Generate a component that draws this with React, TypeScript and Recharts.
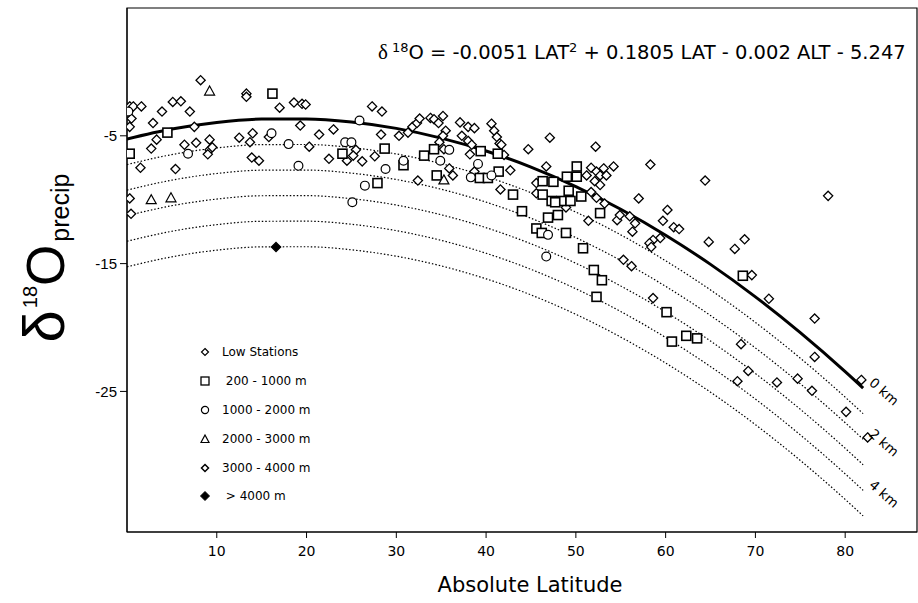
import React from 'react';
import {
  ComposedChart,
  Line,
  Scatter,
  XAxis,
  YAxis,
  ReferenceArea,
  ReferenceDot,
  Legend,
} from 'recharts';

// latitudes where the fitted curves are sampled
const latitudes = [0, 5, 10, 15, 20, 25, 30, 35, 40, 45, 50, 55, 60, 65, 70, 75, 80, 82];

// fitted d18O at altitudes 0..5 km
const curve0km = [-5.25, -4.47, -3.95, -3.69, -3.68, -3.92, -4.42, -5.18, -6.19, -7.45, -8.97, -10.75, -12.78, -15.06, -17.6, -20.4, -23.45, -24.74];
const curve1km = [-7.25, -6.47, -5.95, -5.69, -5.68, -5.92, -6.42, -7.18, -8.19, -9.45, -10.97, -12.75, -14.78, -17.06, -19.6, -22.4, -25.45, -26.74];
const curve2km = [-9.25, -8.47, -7.95, -7.69, -7.68, -7.92, -8.42, -9.18, -10.19, -11.45, -12.97, -14.75, -16.78, -19.06, -21.6, -24.4, -27.45, -28.74];
const curve3km = [-11.25, -10.47, -9.95, -9.69, -9.68, -9.92, -10.42, -11.18, -12.19, -13.45, -14.97, -16.75, -18.78, -21.06, -23.6, -26.4, -29.45, -30.74];
const curve4km = [-13.25, -12.47, -11.95, -11.69, -11.68, -11.92, -12.42, -13.18, -14.19, -15.45, -16.97, -18.75, -20.78, -23.06, -25.6, -28.4, -31.45, -32.74];
const curve5km = [-15.25, -14.47, -13.95, -13.69, -13.68, -13.92, -14.42, -15.18, -16.19, -17.45, -18.97, -20.75, -22.78, -25.06, -27.6, -30.4, -33.45, -34.74];

// stations: [absolute latitude, d18O]
const lowStations = [
  [8.2, -0.65], [13.3, -1.7], [13.3, -1.95], [0.3, -2.7], [0.7, -2.7], [1.6, -2.7], [0.5, -3.65], [0.3, -4.3],
  [3.9, -3.1], [5.1, -2.35], [6.0, -2.3], [7.0, -3.1], [2.9, -4.0], [7.5, -4.3], [17.0, -2.8], [18.6, -2.4],
  [19.5, -2.5], [19.9, -2.55], [19.3, -4.2], [21.4, -4.9], [3.3, -5.3], [2.7, -6.0], [6.4, -5.7], [7.7, -5.55],
  [9.2, -5.3], [9.2, -6.1], [9.5, -5.9], [9.0, -6.45], [12.5, -5.15], [13.7, -5.5], [14.0, -4.8], [15.8, -5.1],
  [20.3, -5.85], [13.9, -6.7], [14.7, -6.95], [1.5, -7.5], [5.4, -7.6],
  [27.3, -2.7], [28.4, -3.1], [23.0, -4.5], [28.3, -4.9], [30.3, -5.0], [31.3, -4.75], [31.8, -4.3], [32.3, -4.0],
  [32.6, -3.65], [33.8, -3.6], [34.2, -3.7], [34.7, -4.0], [35.2, -3.45], [35.5, -4.6], [35.2, -5.0], [37.1, -3.95],
  [38.0, -4.3], [38.7, -4.4], [37.3, -5.0], [38.0, -5.4], [38.4, -5.7], [40.6, -4.05], [40.9, -4.6], [41.2, -5.1],
  [25.5, -6.1], [25.2, -6.55], [24.5, -6.95], [22.5, -6.8], [26.2, -7.0], [27.6, -6.6], [32.4, -8.5], [34.8, -5.5],
  [35.3, -6.05], [35.9, -7.55], [36.3, -8.1], [38.2, -6.45], [38.7, -7.8], [41.6, -9.2], [41.5, -5.6],
  [41.7, -5.7], [47.1, -5.15], [44.7, -6.05], [52.2, -5.85], [42.0, -6.5], [46.7, -7.4], [42.7, -7.7], [51.7, -7.5],
  [52.3, -7.8], [53.1, -7.55], [54.2, -7.4], [52.7, -8.1], [53.4, -8.1], [52.1, -8.55], [52.7, -8.85], [51.2, -8.1],
  [51.7, -9.4], [52.3, -9.85], [53.2, -10.3], [51.4, -11.65], [54.6, -11.6], [54.9, -11.2], [56.0, -11.3],
  [56.6, -11.85], [56.3, -12.5], [57.0, -9.9], [55.3, -14.7], [45.6, -8.7], [45.6, -9.5], [48.9, -10.6],
  [58.3, -7.25], [64.4, -8.5], [60.2, -10.8], [59.7, -11.65], [60.9, -12.15], [61.5, -12.3], [59.4, -13.0],
  [58.6, -13.15], [58.2, -13.4], [58.4, -13.7], [64.8, -13.3], [67.7, -13.85], [68.8, -13.1], [69.6, -15.9],
  [71.5, -17.75], [56.2, -15.2], [58.6, -17.7], [78.1, -9.7],
  [76.6, -19.3], [76.6, -22.3], [74.7, -24.0], [76.3, -24.95], [80.1, -26.6], [82.5, -28.6], [81.8, -24.1],
  [68.4, -21.3], [69.2, -23.4], [68.0, -24.2], [72.4, -24.3],
];

const stations200to1000 = [
  [16.2, -1.7], [4.5, -4.75], [0.3, -6.4],
  [24.0, -6.4], [28.7, -6.0], [30.8, -7.3], [27.9, -8.7], [33.1, -6.55], [34.2, -6.05], [34.5, -8.1], [39.4, -6.2],
  [39.3, -8.3], [40.2, -8.3], [41.4, -7.8], [41.3, -6.4],
  [43.0, -9.6], [50.1, -7.4], [49.0, -8.2], [50.1, -8.2], [46.3, -8.55], [47.5, -8.6], [49.2, -9.3], [50.6, -9.75],
  [47.3, -10.1], [48.4, -10.1], [49.4, -10.1], [47.7, -10.2], [46.3, -9.6], [48.0, -11.2], [46.9, -11.4],
  [44.0, -10.9], [45.6, -12.25], [46.2, -12.6], [48.9, -12.6], [50.8, -13.8], [52.7, -11.05],
  [52.0, -15.5], [52.9, -16.3], [52.3, -17.6],
  [68.6, -15.95], [60.1, -18.8], [62.3, -20.65], [63.5, -20.85], [60.7, -21.1],
];

const stations1000to2000 = [
  [0.15, -3.1], [6.8, -6.4], [16.1, -4.8], [18.0, -5.65], [19.1, -7.35],
  [25.9, -3.8], [24.3, -5.5], [25.0, -5.5], [30.8, -6.95], [28.8, -7.6], [26.5, -8.9], [25.1, -10.2],
  [35.9, -6.1], [34.9, -6.95], [39.1, -7.2], [38.3, -8.25], [40.6, -8.1],
  [46.9, -12.75], [46.7, -14.45],
];

const stations2000to3000 = [[9.2, -1.5], [2.7, -10.0], [4.9, -9.85], [35.3, -8.45]];
const stations3000to4000 = [[0.3, -9.9], [0.45, -11.1]];
const stationsAbove4000 = [[16.6, -13.7]];

const xTicks = [10, 20, 30, 40, 50, 60, 70, 80];
const yTicks = [-5, -15, -25];

const legendLabels = ['Low Stations', ' 200 - 1000 m', '1000 - 2000 m', '2000 - 3000 m', '3000 - 4000 m', ' > 4000 m'];

const TEXT_FONT = '"DejaVu Sans", "Noto Sans", sans-serif';
const SANS = '"Liberation Sans", Arial, sans-serif';

const toCurve = (vals: number[]) => latitudes.map((x, i) => ({ x, y: vals[i] }));
const toPoints = (pts: number[][]) => pts.map(([x, y]) => ({ x, y }));

const diamond = (filled: boolean) => (p: any) => (
  <polygon
    points={`${p.cx},${p.cy - 4.6} ${p.cx + 4.6},${p.cy} ${p.cx},${p.cy + 4.6} ${p.cx - 4.6},${p.cy}`}
    fill={filled ? '#000' : '#fff'}
    stroke="#000"
    strokeWidth={1.3}
  />
);
const square = (p: any) => (
  <rect x={p.cx - 4.5} y={p.cy - 4.5} width={9} height={9} fill="#fff" stroke="#000" strokeWidth={1.6} />
);
const circle = (p: any) => <circle cx={p.cx} cy={p.cy} r={4.4} fill="#fff" stroke="#000" strokeWidth={1.2} />;
const triangle = (p: any) => (
  <polygon
    points={`${p.cx},${p.cy - 5} ${p.cx + 5},${p.cy + 4} ${p.cx - 5},${p.cy + 4}`}
    fill="#fff"
    stroke="#000"
    strokeWidth={1.2}
  />
);

const legendIcons = [
  <polygon points="7,3.5 10.5,7 7,10.5 3.5,7" fill="#fff" stroke="#000" strokeWidth={1.2} />,
  <rect x={3} y={3} width={8} height={8} fill="#fff" stroke="#000" strokeWidth={1.3} />,
  <circle cx={7} cy={7} r={3.6} fill="#fff" stroke="#000" strokeWidth={1.2} />,
  <polygon points="7,3 11,10.5 3,10.5" fill="#fff" stroke="#000" strokeWidth={1.2} />,
  <polygon points="7,3.5 10.5,7 7,10.5 3.5,7" fill="#fff" stroke="#000" strokeWidth={1.5} />,
  <polygon points="7,2.5 11.5,7 7,11.5 2.5,7" fill="#000" stroke="#000" strokeWidth={1} />,
];

const renderLegend = () => (
  <div style={{ fontFamily: TEXT_FONT, fontSize: 12, color: '#000' }}>
    {legendLabels.map((label, i) => (
      <div key={label} style={{ display: 'flex', alignItems: 'center', height: 28.8 }}>
        <svg width={14} height={14}>{legendIcons[i]}</svg>
        <span style={{ marginLeft: 10, whiteSpace: 'pre' }}>{label}</span>
      </div>
    ))}
  </div>
);

const kmLabel = (text: string) => (props: any) => {
  const { x, y } = props.viewBox;
  return (
    <text
      transform={`translate(${x + 5}, ${y - 4}) rotate(41)`}
      fontFamily={TEXT_FONT}
      fontSize={13.5}
      fill="#000"
    >
      {text}
    </text>
  );
};

const xLabel = (props: any) => {
  const { x, y, width } = props.viewBox;
  return (
    <text x={x + width / 2 + 8} y={y + 60} textAnchor="middle" fontFamily={TEXT_FONT} fontSize={21} fill="#000">
      Absolute Latitude
    </text>
  );
};

const yLabel = () => (
  <text transform="translate(64, 258) rotate(-90)" textAnchor="middle" fontFamily={SANS} fill="#000">
    <tspan fontSize={58}>δ</tspan>
    <tspan fontSize={20} dy={-27} dx={2}>18</tspan>
    <tspan fontSize={53} dy={27}>O</tspan>
    <tspan fontSize={25} dy={5} dx={3}>precip</tspan>
  </text>
);

export default function App() {
  const last = latitudes.length - 1;
  return (
    <div style={{ position: 'absolute', left: 0, top: 0, width: 918, height: 603, background: '#fff' }}>
      <ComposedChart width={918} height={603} margin={{ top: 8, right: 1, left: 0, bottom: 0 }}>
        <XAxis
          type="number"
          dataKey="x"
          domain={[0, 88]}
          ticks={xTicks}
          allowDataOverflow
          height={71}
          stroke="#000"
          tickSize={6}
          tickMargin={8}
          tick={{ fill: '#000', fontSize: 14, fontFamily: TEXT_FONT }}
          label={xLabel}
        />
        <YAxis
          type="number"
          dataKey="y"
          domain={[-36, 5]}
          ticks={yTicks}
          allowDataOverflow
          width={127}
          stroke="#000"
          tickSize={7}
          tickMargin={3}
          tick={{ fill: '#000', fontSize: 15, fontFamily: SANS }}
          label={yLabel}
        />
        <ReferenceArea x1={0} x2={88} y1={-36} y2={5} fill="none" stroke="#000" strokeWidth={1.2} />

        <Line data={toCurve(curve5km)} dataKey="y" type="monotone" stroke="#000" strokeWidth={1.2} strokeDasharray="1.5 2" dot={false} activeDot={false} legendType="none" isAnimationActive={false} />
        <Line data={toCurve(curve4km)} dataKey="y" type="monotone" stroke="#000" strokeWidth={1.2} strokeDasharray="1.5 2" dot={false} activeDot={false} legendType="none" isAnimationActive={false} />
        <Line data={toCurve(curve3km)} dataKey="y" type="monotone" stroke="#000" strokeWidth={1.2} strokeDasharray="1.5 2" dot={false} activeDot={false} legendType="none" isAnimationActive={false} />
        <Line data={toCurve(curve2km)} dataKey="y" type="monotone" stroke="#000" strokeWidth={1.2} strokeDasharray="1.5 2" dot={false} activeDot={false} legendType="none" isAnimationActive={false} />
        <Line data={toCurve(curve1km)} dataKey="y" type="monotone" stroke="#000" strokeWidth={1.2} strokeDasharray="1.5 2" dot={false} activeDot={false} legendType="none" isAnimationActive={false} />
        <Line data={toCurve(curve0km)} dataKey="y" type="monotone" stroke="#000" strokeWidth={3} dot={false} activeDot={false} legendType="none" isAnimationActive={false} />

        <Scatter name="Low Stations" data={toPoints(lowStations)} shape={diamond(false)} isAnimationActive={false} />
        <Scatter name="200 - 1000 m" data={toPoints(stations200to1000)} shape={square} isAnimationActive={false} />
        <Scatter name="1000 - 2000 m" data={toPoints(stations1000to2000)} shape={circle} isAnimationActive={false} />
        <Scatter name="2000 - 3000 m" data={toPoints(stations2000to3000)} shape={triangle} isAnimationActive={false} />
        <Scatter name="3000 - 4000 m" data={toPoints(stations3000to4000)} shape={diamond(false)} isAnimationActive={false} />
        <Scatter name="> 4000 m" data={toPoints(stationsAbove4000)} shape={diamond(true)} isAnimationActive={false} />

        <ReferenceDot x={latitudes[last]} y={curve0km[last]} r={0} fill="none" stroke="none" ifOverflow="visible" label={kmLabel('0 km')} />
        <ReferenceDot x={latitudes[last]} y={curve2km[last]} r={0} fill="none" stroke="none" ifOverflow="visible" label={kmLabel('2 km')} />
        <ReferenceDot x={latitudes[last]} y={curve4km[last]} r={0} fill="none" stroke="none" ifOverflow="visible" label={kmLabel('4 km')} />

        <Legend
          layout="vertical"
          align="center"
          verticalAlign="middle"
          content={renderLegend}
          wrapperStyle={{ left: 198, top: 338, width: 180, height: 175 }}
        />
      </ComposedChart>
      <svg width={918} height={603} style={{ position: 'absolute', left: 0, top: 0, pointerEvents: 'none' }}>
        <text x={378} y={59} fontFamily={TEXT_FONT} fontSize={19.5} fill="#000">
          <tspan fontFamily='"Liberation Serif", serif' fontSize={21}>δ</tspan>
          <tspan fontSize={13} dy={-7} dx={4}>18</tspan>
          <tspan dy={7}>O = -0.0051 LAT</tspan>
          <tspan fontSize={13} dy={-7}>2</tspan>
          <tspan dy={7}> + 0.1805 LAT - 0.002 ALT - 5.247</tspan>
        </text>
      </svg>
    </div>
  );
}
